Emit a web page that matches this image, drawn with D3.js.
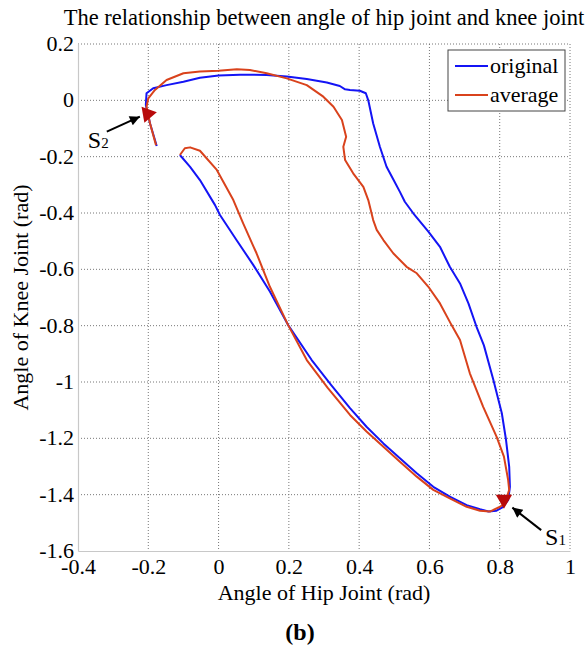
<!DOCTYPE html>
<html>
<head>
<meta charset="utf-8">
<script src="https://cdn.jsdelivr.net/npm/d3@7"></script>
<style>
  body { margin: 0; background: #fff; }
  svg text { font-family: "Liberation Serif", "Times New Roman", serif; fill: #000; }
</style>
</head>
<body>
<div id="chart"></div>
<script>
// Tick values
const xTicks = [-0.4, -0.2, 0, 0.2, 0.4, 0.6, 0.8, 1];
const yTicks = [0.2, 0, -0.2, -0.4, -0.6, -0.8, -1, -1.2, -1.4, -1.6];

// Original trajectory (hip, knee)
const originalHip = [-0.176, -0.195, -0.207, -0.205, -0.186, -0.148, -0.100, -0.053, 0.000, 0.061,
  0.137, 0.194, 0.251, 0.308, 0.345, 0.360, 0.374, 0.402, 0.419, 0.426,
  0.440, 0.459, 0.478, 0.497, 0.516, 0.530, 0.554, 0.597, 0.630, 0.658,
  0.687, 0.711, 0.734, 0.755, 0.782, 0.806, 0.818, 0.827, 0.829, 0.824,
  0.810, 0.791, 0.768, 0.744, 0.706, 0.658, 0.611, 0.564, 0.516, 0.469,
  0.421, 0.374, 0.320, 0.265, 0.198, 0.146, 0.099, 0.051, 0.004, -0.010,
  -0.053, -0.081, -0.110];
const originalKnee = [-0.162, -0.082, -0.017, 0.025, 0.043, 0.054, 0.066, 0.080, 0.088, 0.091,
  0.090, 0.085, 0.076, 0.063, 0.051, 0.039, 0.037, 0.034, 0.025, 0.000,
  -0.082, -0.165, -0.236, -0.280, -0.325, -0.360, -0.401, -0.466, -0.520, -0.591,
  -0.650, -0.721, -0.804, -0.870, -0.993, -1.111, -1.206, -1.301, -1.372, -1.419,
  -1.443, -1.457, -1.460, -1.452, -1.437, -1.407, -1.372, -1.324, -1.271, -1.218,
  -1.159, -1.093, -1.010, -0.922, -0.798, -0.679, -0.585, -0.496, -0.407, -0.372,
  -0.283, -0.236, -0.194];

// Average trajectory (hip, knee)
const averageHip = [-0.178, -0.195, -0.205, -0.200, -0.181, -0.148, -0.100, -0.053, 0.000, 0.052,
  0.089, 0.137, 0.194, 0.251, 0.298, 0.327, 0.351, 0.363, 0.355, 0.360,
  0.383, 0.412, 0.426, 0.440, 0.450, 0.469, 0.497, 0.535, 0.564, 0.597,
  0.630, 0.663, 0.687, 0.715, 0.753, 0.791, 0.812, 0.824, 0.827, 0.815,
  0.801, 0.772, 0.744, 0.706, 0.658, 0.611, 0.564, 0.516, 0.469, 0.421,
  0.374, 0.310, 0.251, 0.198, 0.146, 0.108, 0.070, 0.042, -0.005, -0.053,
  -0.081, -0.096, -0.110];
const averageKnee = [-0.159, -0.082, -0.023, 0.007, 0.037, 0.072, 0.096, 0.102, 0.105, 0.110,
  0.108, 0.096, 0.078, 0.054, 0.013, -0.023, -0.070, -0.129, -0.165, -0.212,
  -0.259, -0.307, -0.354, -0.425, -0.460, -0.496, -0.543, -0.591, -0.614, -0.662,
  -0.721, -0.798, -0.851, -0.969, -1.088, -1.194, -1.265, -1.348, -1.383, -1.430,
  -1.443, -1.460, -1.457, -1.443, -1.413, -1.383, -1.336, -1.283, -1.230, -1.176,
  -1.117, -1.020, -0.922, -0.798, -0.662, -0.543, -0.437, -0.354, -0.247, -0.179,
  -0.167, -0.170, -0.194];

// Event markers S1 / S2 and their arrows
const eventNames = ["S1", "S2"];
const eventHip = [0.812, -0.202];
const eventKnee = [-1.417, -0.048];
const arrowFromHip = [0.918, -0.318];
const arrowFromKnee = [-1.526, -0.111];
const arrowToHip = [0.836, -0.224];
const arrowToKnee = [-1.446, -0.058];
const labelHip = [0.929, -0.372];
const labelKnee = [-1.579, -0.169];

const seriesNames = ["original", "average"];
const seriesColors = ["#1414f5", "#d9421c"];

const width = 588, height = 649;
const margin = { top: 44, right: 18, bottom: 98, left: 78 };
const chartWidth = width - margin.left - margin.right;
const chartHeight = height - margin.top - margin.bottom;

const svg = d3.select("#chart").append("svg")
  .attr("width", width)
  .attr("height", height);

const g = svg.append("g")
  .attr("transform", "translate(" + margin.left + "," + margin.top + ")");

const x = d3.scaleLinear().domain([-0.4, 1]).range([0, chartWidth]);
const y = d3.scaleLinear().domain([-1.6, 0.2]).range([chartHeight, 0]);

// Grid
g.append("g").selectAll("line")
  .data(xTicks.slice(1))
  .join("line")
  .attr("x1", d => x(d)).attr("x2", d => x(d))
  .attr("y1", 0).attr("y2", chartHeight)
  .attr("stroke", "#777").attr("stroke-width", 1).attr("stroke-dasharray", "1,2");
g.append("g").selectAll("line")
  .data(yTicks.slice(0, -1))
  .join("line")
  .attr("x1", 0).attr("x2", chartWidth)
  .attr("y1", d => y(d)).attr("y2", d => y(d))
  .attr("stroke", "#777").attr("stroke-width", 1).attr("stroke-dasharray", "1,2");

// Axes (no tick marks, light frame on left and bottom)
const tickText = d => String(d);
const xAxis = g.append("g")
  .attr("transform", "translate(0," + chartHeight + ")")
  .call(d3.axisBottom(x).tickValues(xTicks).tickFormat(tickText).tickSize(0).tickPadding(7));
const yAxis = g.append("g")
  .call(d3.axisLeft(y).tickValues(yTicks).tickFormat(tickText).tickSize(0).tickPadding(4));
[xAxis, yAxis].forEach(a => {
  a.select(".domain").attr("stroke", "#c8c8c8").attr("stroke-width", 1.2);
  a.selectAll("text").style("font-family", "Liberation Serif").style("font-size", "22px").attr("fill", "#000");
});
yAxis.selectAll("text").attr("dy", "0.3em");

// Trajectories
const line = d3.line()
  .x(d => x(d[0]))
  .y(d => y(d[1]));

const series = [
  d3.zip(originalHip, originalKnee),
  d3.zip(averageHip, averageKnee)
];
g.selectAll(".traj")
  .data(series)
  .join("path")
  .attr("class", "traj")
  .attr("fill", "none")
  .attr("stroke", (d, i) => seriesColors[i])
  .attr("stroke-width", 2)
  .attr("stroke-linejoin", "round")
  .attr("d", line);

// Event markers
const markerRotate = [180, -40];
g.selectAll(".event")
  .data(eventNames)
  .join("path")
  .attr("class", "event")
  .attr("d", d3.symbol(d3.symbolTriangle, 115))
  .attr("fill", "#b80a0a")
  .attr("transform", (d, i) => "translate(" + x(eventHip[i]) + "," + y(eventKnee[i]) + ") rotate(" + markerRotate[i] + ")");

// Arrows
svg.append("defs").append("marker")
  .attr("id", "head")
  .attr("viewBox", "0 0 10 10")
  .attr("refX", 10).attr("refY", 5)
  .attr("markerWidth", 13).attr("markerHeight", 10)
  .attr("markerUnits", "userSpaceOnUse")
  .attr("orient", "auto")
  .append("path")
  .attr("d", "M0,0L10,5L0,10Z")
  .attr("fill", "#000");

g.selectAll(".arrow")
  .data(eventNames)
  .join("line")
  .attr("class", "arrow")
  .attr("x1", (d, i) => x(arrowFromHip[i]))
  .attr("y1", (d, i) => y(arrowFromKnee[i]))
  .attr("x2", (d, i) => x(arrowToHip[i]))
  .attr("y2", (d, i) => y(arrowToKnee[i]))
  .attr("stroke", "#000")
  .attr("stroke-width", 2)
  .attr("marker-end", "url(#head)");

// Labels S1 / S2 with subscripts
const labels = g.selectAll(".evlabel")
  .data(eventNames)
  .join("text")
  .attr("class", "evlabel")
  .attr("x", (d, i) => x(labelHip[i]))
  .attr("y", (d, i) => y(labelKnee[i]))
  .style("font-size", "24px");
labels.append("tspan").text(d => d[0]);
labels.append("tspan").style("font-size", "15px").attr("dy", 0).text(d => d[1]);

// Legend
const legend = g.append("g").attr("transform", "translate(" + (chartWidth - 122) + ",6)");
legend.append("rect")
  .attr("width", 117).attr("height", 61)
  .attr("fill", "#fff").attr("stroke", "#444").attr("stroke-width", 1);
seriesNames.forEach((name, i) => {
  const row = legend.append("g").attr("transform", "translate(0," + (16 + i * 29) + ")");
  row.append("line")
    .attr("x1", 7).attr("x2", 40)
    .attr("stroke", seriesColors[i]).attr("stroke-width", 2);
  row.append("text")
    .attr("x", 42).attr("y", 7)
    .style("font-size", "22px")
    .text(name);
});

// Titles
svg.append("text")
  .attr("x", margin.left + chartWidth / 2)
  .attr("y", 25)
  .attr("text-anchor", "middle")
  .style("font-size", "22.5px")
  .text("The relationship between angle of hip joint and knee joint");

svg.append("text")
  .attr("x", margin.left + chartWidth / 2)
  .attr("y", 600)
  .attr("text-anchor", "middle")
  .style("font-size", "22px")
  .text("Angle of Hip Joint (rad)");

svg.append("text")
  .attr("transform", "translate(28," + (margin.top + chartHeight / 2) + ") rotate(-90)")
  .attr("text-anchor", "middle")
  .style("font-size", "22px")
  .text("Angle of Knee Joint (rad)");

svg.append("text")
  .attr("x", 300)
  .attr("y", 640)
  .attr("text-anchor", "middle")
  .style("font-size", "24px")
  .style("font-weight", "bold")
  .text("(b)");
</script>
</body>
</html>
